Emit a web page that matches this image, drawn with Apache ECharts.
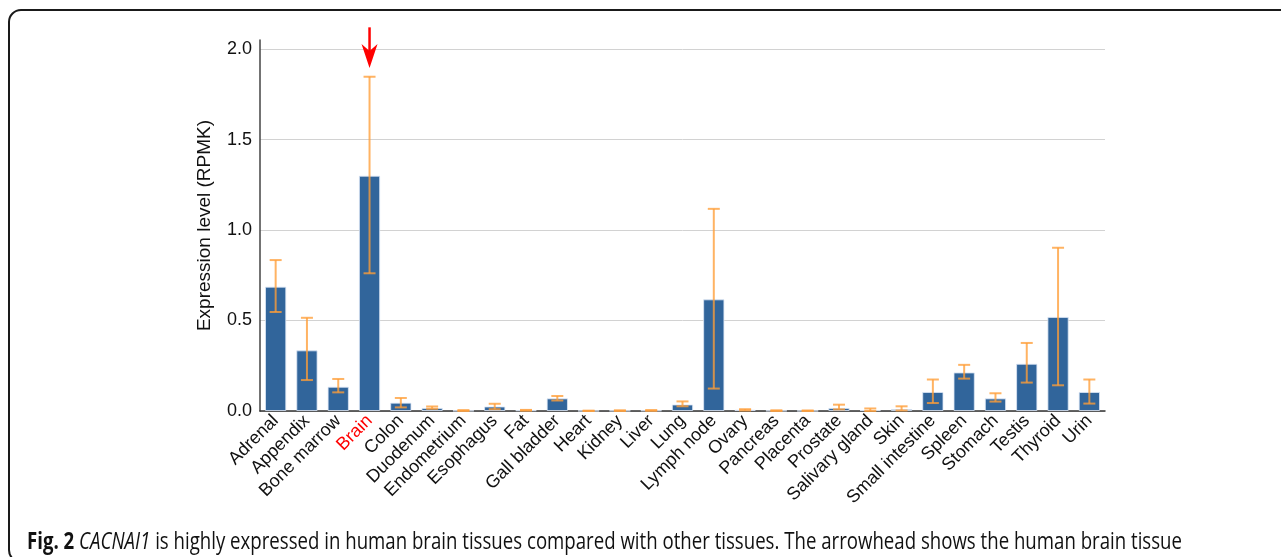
<!DOCTYPE html>
<html>
<head>
<meta charset="utf-8">
<script src="https://cdn.jsdelivr.net/npm/echarts@6/dist/echarts.min.js"></script>
<style>html,body{margin:0;padding:0;background:#fff;}#c{width:1281px;height:557px;}</style>
</head>
<body>
<div id="c"></div>
<script>
const categories = ['Adrenal','Appendix','Bone marrow','Brain','Colon','Duodenum','Endometrium','Esophagus','Fat','Gall bladder','Heart','Kidney','Liver','Lung','Lymph node','Ovary','Pancreas','Placenta','Prostate','Salivary gland','Skin','Small intestine','Spleen','Stomach','Testis','Thyroid','Urin'];
const values   = [0.687,0.335,0.134,1.30,0.046,0.017,0.002,0.025,0.004,0.070,0.001,0.002,0.003,0.036,0.617,0.007,0.002,0.001,0.017,0.005,0.011,0.105,0.213,0.070,0.261,0.520,0.105];
const errLow   = [0.547,0.171,0.103,0.761,0.020,0.012,0.000,0.010,0.002,0.058,0.000,0.000,0.001,0.026,0.124,0.003,0.000,0.000,0.009,0.000,0.003,0.044,0.179,0.052,0.157,0.142,0.041];
const errHigh  = [0.834,0.515,0.177,1.847,0.072,0.025,0.005,0.040,0.006,0.083,0.002,0.004,0.005,0.053,1.117,0.010,0.004,0.003,0.035,0.014,0.026,0.174,0.255,0.098,0.376,0.902,0.174];
const yTicks   = [0, 0.5, 1.0, 1.5, 2.0];
const highlight = 'Brain';
const arrowValues = [2.12, 1.895]; // tail, tip (in axis units)
const captionBold = 'Fig. 2';
const captionItalic = 'CACNAI1';
const captionRest = ' is highly expressed in human brain tissues compared with other tissues. The arrowhead shows the human brain tissue';

const chart = echarts.init(document.getElementById('c'), null, {renderer: 'canvas'});
const hIdx = categories.indexOf(highlight);
const errData = categories.map((c, i) => [i, errLow[i], errHigh[i]]);

const option = {
  animation: false,
  backgroundColor: '#fff',
  grid: {left: 260, right: 176, top: 40, bottom: 146, containLabel: false},
  xAxis: {
    type: 'category',
    data: categories,
    axisLine: {lineStyle: {color: '#333', width: 1.5}},
    axisTick: {show: false},
    axisLabel: {
      interval: 0, rotate: 45, margin: 7,
      fontFamily: 'Liberation Sans, Arial, sans-serif', fontSize: 18,
      color: (v) => v === highlight ? '#ff0000' : '#111'
    }
  },
  yAxis: {
    type: 'value',
    min: yTicks[0], max: 2.05, interval: 0.5,
    name: 'Expression level (RPMK)',
    nameLocation: 'middle', nameGap: 46,
    nameTextStyle: {fontFamily: 'Liberation Sans, Arial, sans-serif', fontSize: 19, color: '#111'},
    axisLine: {show: true, lineStyle: {color: '#444', width: 1.5}},
    axisTick: {show: false},
    axisLabel: {
      showMaxLabel: false, margin: 8,
      fontFamily: 'Liberation Sans, Arial, sans-serif', fontSize: 18, color: '#111',
      formatter: (v) => v.toFixed(1)
    },
    splitLine: {show: true, showMaxLine: false, lineStyle: {color: '#d2d2d2', width: 1}}
  },
  series: [
    {
      type: 'bar',
      data: values,
      barWidth: '68%',
      itemStyle: {color: '#31659b', borderColor: 'rgba(220,230,245,0.8)', borderWidth: 1},
      z: 2
    },
    {
      type: 'custom',
      data: errData,
      z: 3,
      renderItem: function (params, api) {
        const i = api.value(0);
        const lo = api.coord([i, api.value(1)]);
        const hi = api.coord([i, api.value(2)]);
        const hw = 6;
        const st = {stroke: 'rgba(255,158,55,0.78)', lineWidth: 2};
        return {
          type: 'group',
          children: [
            {type: 'line', shape: {x1: hi[0], y1: hi[1], x2: lo[0], y2: lo[1]}, style: st},
            {type: 'line', shape: {x1: hi[0] - hw, y1: hi[1], x2: hi[0] + hw, y2: hi[1]}, style: st},
            {type: 'line', shape: {x1: lo[0] - hw, y1: lo[1], x2: lo[0] + hw, y2: lo[1]}, style: st}
          ]
        };
      }
    },
    {
      type: 'custom',
      data: [[hIdx, arrowValues[0], arrowValues[1]]],
      z: 5,
      clip: false,
      renderItem: function (params, api) {
        const i = api.value(0);
        const tail = api.coord([i, api.value(1)]);
        const tip = api.coord([i, api.value(2)]);
        const x = tip[0], ty = tip[1];
        return {
          type: 'group',
          children: [
            {type: 'line', shape: {x1: x, y1: tail[1], x2: x, y2: ty - 14}, style: {stroke: '#ff0000', lineWidth: 2.5}},
            {type: 'polygon', shape: {points: [[x, ty], [x - 8, ty - 24], [x, ty - 17], [x + 8, ty - 24]]}, style: {fill: '#ff0000'}}
          ]
        };
      }
    }
  ],
  graphic: [
    {
      type: 'rect',
      shape: {x: 9, y: 10, width: 1400, height: 552, r: 12},
      style: {fill: 'none', stroke: '#1a1a1a', lineWidth: 2},
      z: 0, silent: true
    },
    {
      type: 'text',
      left: 27, top: 531,
      style: {
        text: '{b|' + captionBold + '} {i|' + captionItalic + '}{n|' + captionRest + '}',
        rich: {
          b: {fontFamily: 'Open Sans', fontWeight: 'bold', fontSize: 23, fill: '#111'},
          i: {fontFamily: 'Open Sans', fontStyle: 'italic', fontSize: 23, fill: '#111'},
          n: {fontFamily: 'Open Sans', fontSize: 23, fill: '#111'}
        },
        fontFamily: 'Open Sans', fontSize: 23, fill: '#111'
      },
      scaleX: 0.81,
      z: 10
    }
  ]
};
chart.setOption(option);
</script>
</body>
</html>
